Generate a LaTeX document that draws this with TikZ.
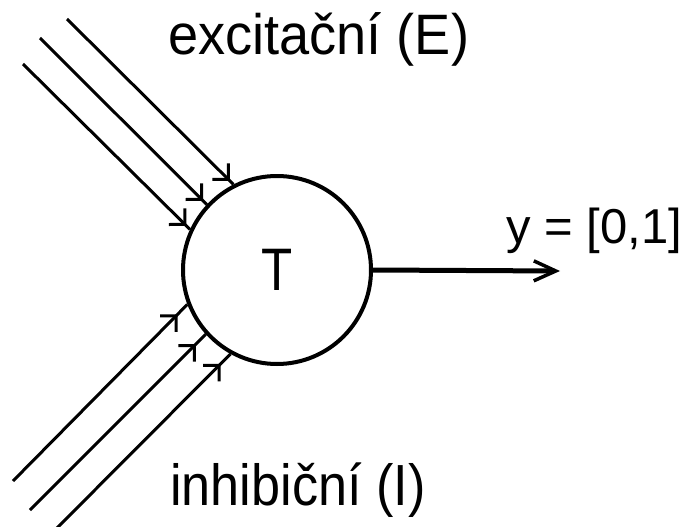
\documentclass[tikz,border=0pt]{standalone}
\usepackage{fontspec}
\setmainfont{Liberation Sans}
\usetikzlibrary{arrows.meta,decorations.markings}
\begin{document}
\begin{tikzpicture}[x=1pt,y=-1pt,
  lbl/.style 2 args={inner sep=0pt, anchor=base west,
    font=\fontsize{#1pt}{#1pt}\selectfont\addfontfeatures{FakeStretch=#2}},
  syn/.style={line width=3pt, postaction={decorate},
    decoration={markings, mark=at position #1 with {\arrow{Straight Barb[angle=90:16pt]}}}},
  neuron/.style={circle, draw, line width=4pt, minimum size=188pt, inner sep=0pt,
    font=\fontsize{60pt}{60pt}\selectfont\addfontfeatures{FakeStretch=0.85}}
]
\useasboundingbox (0,0) rectangle (688,527);

\node[neuron] (c) at (277,270) {T};

% excitatory inputs
\coordinate (e1) at (67,19);
\coordinate (e2) at (40,38);
\coordinate (e3) at (23,64);
\draw[syn=-5pt] (e1) -- (c.117.2);
\draw[syn=-5pt] (e2) -- (c.137.1);
\draw[syn=-5pt] (e3) -- (c.155.9);

% inhibitory inputs
\coordinate (i1) at (13,481);
\coordinate (i2) at (30,510);
\coordinate (i3) at (56,529);
\draw[syn=-14pt] (i1) -- (c.201.8);
\draw[syn=-14pt] (i2) -- (c.222.0);
\draw[syn=-14pt] (i3) -- (c.241.4);

% output
\coordinate (out) at (560,271);
\draw[line width=5pt, -{Straight Barb[length=22pt,width=20pt,line width=3.5pt]}] (c.east) -- (out);

% labels
\node[lbl={57}{0.95}] (le) at (168,55) {excitační (E)};
\node[lbl={58}{0.9}] (li) at (170,505) {inhibiční (I)};
\node[lbl={49}{1.0}] (ly) at (506,243) {y = [0,1]};
\end{tikzpicture}
\end{document}
